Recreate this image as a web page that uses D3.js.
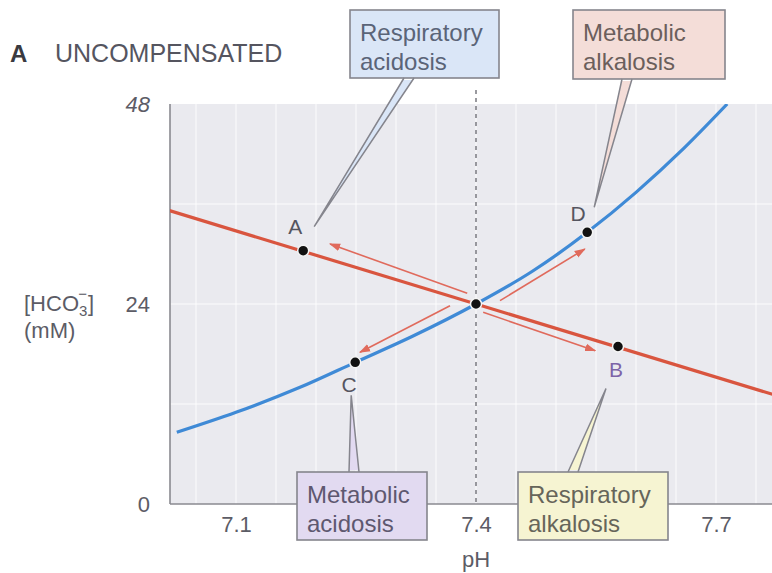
<!DOCTYPE html>
<html>
<head>
<meta charset="utf-8">
<script src="https://cdn.jsdelivr.net/npm/d3@7"></script>
<style>
  html, body { margin: 0; padding: 0; background: #fff; }
  svg { display: block; font-family: "Liberation Sans", Arial, Helvetica, sans-serif; }
</style>
</head>
<body>
<svg id="chart" width="772" height="573"></svg>
<script>
// ---- data (pH, [HCO3-] in mM) ----
const xTicks = [7.1, 7.4, 7.7];
const xTickLabels = ["7.1", "7.4", "7.7"];
const yTicks = [0, 24, 48];
const yTickLabels = ["0", "24", "48"];

// buffer line of the blood (non-bicarbonate buffers)
const bufferLine = [[7.0, 35.7], [7.8, 12.3]];

// PCO2 = 40 mm Hg isobar
const isobar = [
  [7.026, 8.6], [7.10, 11.0], [7.18, 14.0], [7.249, 17.0], [7.32, 20.1],
  [7.40, 24.0], [7.47, 27.9], [7.539, 32.6], [7.60, 37.4], [7.66, 42.7], [7.714, 48.0]
];

// normal point and the four uncompensated disturbances
const normalPoint = [7.40, 24.0];
const pointIds = ["A", "B", "C", "D"];
const pointPH = [7.184, 7.5775, 7.249, 7.539];
const pointHCO3 = [30.4, 18.9, 17.0, 32.6];

// shift arrows from the normal point: [fromPH, fromHCO3, toPH, toHCO3]
const arrows = [
  [7.389, 25.3, 7.2175, 31.2],
  [7.409, 23.0, 7.549, 18.4],
  [7.3675, 23.8, 7.255, 18.2],
  [7.430, 24.4, 7.536, 30.6]
];

// callout names, attached to points
const calloutText = [["Respiratory", "acidosis"], ["Metabolic", "alkalosis"],
                     ["Metabolic", "acidosis"], ["Respiratory", "alkalosis"]];
const calloutPoint = ["A", "D", "C", "B"];

// ---- layout ----
const svg = d3.select("#chart");
const plot = { left: 170, right: 772, top: 104, bottom: 504 };

const x = d3.scaleLinear().domain([7.0175, 7.77]).range([plot.left, plot.right]);
const y = d3.scaleLinear().domain([0, 48]).range([plot.bottom, plot.top]);

const textGray = "#5c5c66";

// title
svg.append("text").attr("x", 10).attr("y", 62)
  .attr("font-size", 24).attr("font-weight", "bold").attr("fill", "#3a3a40").text("A");
svg.append("text").attr("x", 55).attr("y", 62)
  .attr("font-size", 25).attr("fill", "#55555f").text("UNCOMPENSATED");

// plot background
const clipId = "plotClip";
svg.append("clipPath").attr("id", clipId).append("rect")
  .attr("x", plot.left).attr("y", plot.top)
  .attr("width", plot.right - plot.left).attr("height", plot.bottom - plot.top);

svg.append("rect")
  .attr("x", plot.left).attr("y", plot.top)
  .attr("width", plot.right - plot.left).attr("height", plot.bottom - plot.top)
  .attr("fill", "#eaeaef");

// faint white grid
const grid = svg.append("g").attr("clip-path", `url(#${clipId})`);
grid.selectAll("line.v").data(d3.range(7.05, 7.78, 0.05)).join("line")
  .attr("x1", d => x(d)).attr("x2", d => x(d))
  .attr("y1", plot.top).attr("y2", plot.bottom)
  .attr("stroke", "#ffffff").attr("stroke-opacity", 0.45).attr("stroke-width", 2);
grid.selectAll("line.h").data([12, 24, 36]).join("line")
  .attr("x1", plot.left).attr("x2", plot.right)
  .attr("y1", d => y(d)).attr("y2", d => y(d))
  .attr("stroke", "#ffffff").attr("stroke-opacity", 0.45).attr("stroke-width", 2);

// axes (labels only) and frame lines
const xAxis = svg.append("g").attr("transform", `translate(0,${plot.bottom})`)
  .call(d3.axisBottom(x).tickValues(xTicks).tickSize(0).tickPadding(12)
    .tickFormat((d, i) => xTickLabels[i]));
const yAxis = svg.append("g").attr("transform", `translate(${plot.left},0)`)
  .call(d3.axisLeft(y).tickValues(yTicks).tickSize(0).tickPadding(20)
    .tickFormat((d, i) => yTickLabels[i]));
[xAxis, yAxis].forEach(g => {
  g.select(".domain").remove();
  g.selectAll("text").attr("font-size", 22).attr("fill", textGray)
    .attr("font-family", "\"Liberation Sans\", Arial, sans-serif");
});
yAxis.selectAll("text").filter(d => d === 48).attr("font-style", "italic");

svg.append("line").attr("x1", plot.left).attr("x2", plot.left)
  .attr("y1", plot.top).attr("y2", plot.bottom)
  .attr("stroke", "#8a8a90").attr("stroke-width", 1.6);
svg.append("line").attr("x1", plot.left).attr("x2", plot.right)
  .attr("y1", plot.bottom).attr("y2", plot.bottom)
  .attr("stroke", "#8a8a90").attr("stroke-width", 1.6);

// axis titles
svg.append("text").attr("x", 476).attr("y", 567).attr("text-anchor", "middle")
  .attr("font-size", 22).attr("fill", textGray).text("pH");

const yl = svg.append("text").attr("x", 24).attr("y", 311)
  .attr("font-size", 22).attr("fill", textGray);
yl.append("tspan").text("[HCO");
yl.append("tspan").attr("font-size", 15).attr("dy", 5).text("3");
yl.append("tspan").attr("font-size", 15).attr("dx", -9).attr("dy", -17).text("−");
yl.append("tspan").attr("dy", 12).attr("dx", 1).text("]");
svg.append("text").attr("x", 24).attr("y", 338)
  .attr("font-size", 22).attr("fill", textGray).text("(mM)");

// dashed reference at normal pH
svg.append("line")
  .attr("x1", x(normalPoint[0])).attr("x2", x(normalPoint[0]))
  .attr("y1", 90).attr("y2", plot.bottom)
  .attr("stroke", "#7a7a80").attr("stroke-width", 1.5).attr("stroke-dasharray", "4,4");

// curves
const line = d3.line().x(d => x(d[0])).y(d => y(d[1]));
const curves = svg.append("g").attr("clip-path", `url(#${clipId})`);
curves.append("path").datum(bufferLine)
  .attr("d", line).attr("fill", "none")
  .attr("stroke", "#d9553f").attr("stroke-width", 3.2);
curves.append("path").datum(isobar)
  .attr("d", line.curve(d3.curveMonotoneX)).attr("fill", "none")
  .attr("stroke", "#3f8ad6").attr("stroke-width", 3.2);

// arrows
svg.append("defs").append("marker")
  .attr("id", "arrowHead").attr("viewBox", "0 0 10 10")
  .attr("refX", 9).attr("refY", 5)
  .attr("markerWidth", 7).attr("markerHeight", 7)
  .attr("orient", "auto-start-reverse")
  .append("path").attr("d", "M0,1.5 L10,5 L0,8.5 Z").attr("fill", "#e06a5c");

svg.append("g").selectAll("line").data(arrows).join("line")
  .attr("x1", d => x(d[0])).attr("y1", d => y(d[1]))
  .attr("x2", d => x(d[2])).attr("y2", d => y(d[3]))
  .attr("stroke", "#e06a5c").attr("stroke-width", 1.6)
  .attr("marker-end", "url(#arrowHead)");

// points
const points = pointIds.map((id, i) => ({ id, ph: pointPH[i], v: pointHCO3[i] }));
const byId = Object.fromEntries(points.map(p => [p.id, p]));

svg.append("g").selectAll("circle")
  .data([...points, { id: "N", ph: normalPoint[0], v: normalPoint[1] }])
  .join("circle")
  .attr("cx", d => x(d.ph)).attr("cy", d => y(d.v)).attr("r", 5.5)
  .attr("fill", "#111").attr("stroke", "#f4f4f4").attr("stroke-width", 1.5);

// point letters
const letterOffset = { A: [-8, -24], B: [-2, 23], C: [-6, 22], D: [-9, -19] };
const letterColor = { A: "#55555f", B: "#7d64a8", C: "#55555f", D: "#55555f" };
svg.append("g").selectAll("text").data(points).join("text")
  .attr("x", d => x(d.ph) + letterOffset[d.id][0])
  .attr("y", d => y(d.v) + letterOffset[d.id][1])
  .attr("dy", "0.35em").attr("text-anchor", "middle")
  .attr("font-size", 21).attr("fill", d => letterColor[d.id]).text(d => d.id);

// callout boxes with pointers
const boxes = [
  { box: [350, 10, 149, 68], fill: "#dae6f7", base: [404, 414], tip: [11, -24], text: "#5a6478" },
  { box: [573, 10, 152, 69], fill: "#f4ddd8", base: [622, 632], tip: [7, -25], text: "#6b5f5c" },
  { box: [297, 472, 130, 68], fill: "#e2daf1", base: [349, 359], tip: [-4, 33], text: "#5e5870" },
  { box: [518, 472, 150, 68], fill: "#f6f4d2", base: [568, 578], tip: [-12, 42], text: "#66655a" }
];
const stroke = "#85858d";

boxes.forEach((b, i) => {
  const [bx, by, bw, bh] = b.box;
  const p = byId[calloutPoint[i]];
  const tx = x(p.ph) + b.tip[0], ty = y(p.v) + b.tip[1];
  const top = ty < by;           // pointer leaves from the bottom edge when box is above
  const edge = top ? by : by + bh;
  const g = svg.append("g");
  g.append("rect").attr("x", bx).attr("y", by).attr("width", bw).attr("height", bh)
    .attr("fill", b.fill).attr("stroke", stroke).attr("stroke-width", 1.6);
  const inset = top ? -2 : 2;
  g.append("path")
    .attr("d", `M${b.base[0]},${edge + inset} L${b.base[0]},${edge} L${tx},${ty} L${b.base[1]},${edge} L${b.base[1]},${edge + inset}`)
    .attr("fill", b.fill).attr("stroke", "none");
  g.append("path")
    .attr("d", `M${b.base[0]},${edge} L${tx},${ty} L${b.base[1]},${edge}`)
    .attr("fill", "none").attr("stroke", stroke).attr("stroke-width", 1.5)
    .attr("stroke-linejoin", "miter");
  g.selectAll("text").data(calloutText[i]).join("text")
    .attr("x", bx + 10).attr("y", (d, j) => by + 31 + j * 29)
    .attr("font-size", 24).attr("fill", b.text).text(d => d);
});
</script>
</body>
</html>
